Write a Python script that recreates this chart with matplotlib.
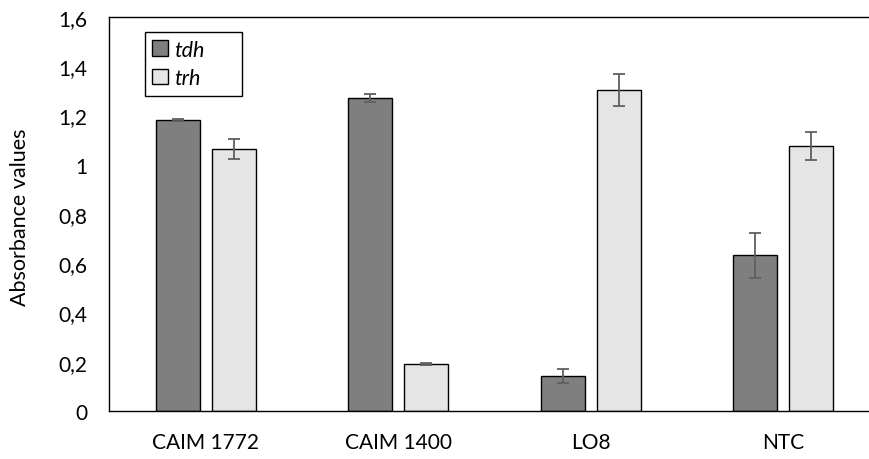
import numpy as np
import matplotlib.pyplot as plt

plt.rcParams['font.family'] = ['Lato', 'DejaVu Sans']

strains = ['CAIM 1772', 'CAIM 1400', 'LO8', 'NTC']
tdh = [1.183, 1.27, 0.142, 0.632]
tdh_err = [0.004, 0.017, 0.028, 0.09]
trh = [1.065, 0.19, 1.302, 1.076]
trh_err = [0.04, 0.005, 0.065, 0.058]
yticks = [0, 0.2, 0.4, 0.6, 0.8, 1, 1.2, 1.4, 1.6]
ytick_labels = ['0', '0,2', '0,4', '0,6', '0,8', '1', '1,2', '1,4', '1,6']

fig = plt.figure(figsize=(8.69, 4.60), dpi=100)
ax = fig.add_axes([0.126, 0.1043, 0.886, 0.8565])

x = np.arange(len(strains))
w = 0.228
off = 0.145
err_kw = dict(ecolor='#5f5f5f', elinewidth=1.3, capsize=4.3, capthick=1.3)
ax.bar(x - off, tdh, w, yerr=tdh_err, color='#7f7f7f', edgecolor='black',
       linewidth=1.0, label='tdh', error_kw=err_kw)
ax.bar(x + off, trh, w, yerr=trh_err, color='#e5e5e5', edgecolor='black',
       linewidth=1.0, label='trh', error_kw=err_kw)

ax.set_xlim(-0.5, 3.5)
ax.set_ylim(0, 1.6)
ax.set_yticks(yticks)
ax.set_yticklabels(ytick_labels)
ax.set_xticks(x)
ax.set_xticklabels(strains)
ax.tick_params(axis='both', length=0, labelsize=15, colors='black')
ax.tick_params(axis='x', pad=15)
ax.tick_params(axis='y', pad=16)
for s in ax.spines.values():
    s.set_color('black')
    s.set_linewidth(1.0)

ax.set_ylabel('Absorbance values', fontsize=15.5)
ax.yaxis.set_label_coords(-0.103, 0.495)

# legend box is wider than its contents in the original
leg = ax.legend(loc='upper left', bbox_to_anchor=(0.046, 0.0, 0.126, 0.962),
                mode='expand', borderaxespad=0,
                fancybox=False, edgecolor='black', framealpha=1,
                prop={'style': 'italic', 'size': 15.5},
                handlelength=0.7, handleheight=0.7, handletextpad=0.3,
                labelspacing=0.4, borderpad=0.35)
leg.get_frame().set_linewidth(1.0)

fig.savefig('out.png', dpi=100)
